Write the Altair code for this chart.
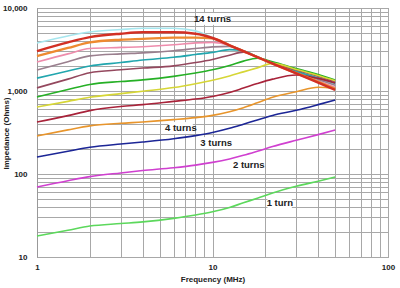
import altair as alt
import pandas as pd

freqs = [1, 1.5, 2, 3, 4, 6, 8, 10, 12.5, 15, 18, 22, 30, 40, 50]

t1 = [17.9, 21, 23.6, 25.3, 26.5, 29.2, 32, 35, 39.5, 45, 51, 59, 71, 82, 92]
t2 = [69.7, 83, 93, 103, 110, 119, 128, 138, 152, 168, 188, 214, 255, 298, 339]
t3 = [160, 188, 210, 230, 243, 266, 290, 316, 355, 398, 448, 508, 585, 685, 780]
t4 = [287, 340, 380, 408, 423, 452, 478, 508, 562, 628, 720, 840, 980, 1110, 1070]
t5 = [423, 505, 580, 650, 685, 750, 800, 860, 960, 1085, 1230, 1390, 1560, 1420, 1250]
t6 = [641, 750, 840, 930, 995, 1100, 1225, 1350, 1520, 1700, 1900, 2150, 1820, 1540, 1330]
t7 = [847, 1040, 1200, 1300, 1360, 1500, 1650, 1800, 2030, 2290, 2480, 2250, 1860, 1580, 1360]
t8 = [1090, 1390, 1660, 1800, 1890, 2010, 2200, 2400, 2700, 2940, 2560, 2180, 1790, 1510, 1300]
t9 = [1430, 1740, 2000, 2200, 2360, 2550, 2750, 2920, 3150, 3050, 2580, 2170, 1730, 1440, 1240]
t10 = [1790, 2250, 2650, 2800, 2880, 3060, 3250, 3400, 3450, 3040, 2570, 2150, 1690, 1380, 1170]
t11 = [2230, 2800, 3250, 3350, 3420, 3600, 3800, 3850, 3560, 3030, 2565, 2140, 1660, 1320, 1110]
t12 = [2640, 3300, 3850, 4150, 4250, 4400, 4400, 4300, 3550, 3020, 2565, 2140, 1640, 1290, 1060]
t13 = [3030, 3850, 4450, 4900, 5100, 5100, 4900, 4350, 3550, 3020, 2560, 2135, 1630, 1260, 1030]
t14 = [3790, 4600, 5140, 5500, 5700, 5700, 5300, 4380, 3560, 3040, 2580, 2160, 1680, 1400, 1200]

series_names = ["14", "11", "10", "9", "8", "7", "6", "5", "1", "2", "3", "4", "12", "13"]
series_values = {"1": t1, "2": t2, "3": t3, "4": t4, "5": t5, "6": t6, "7": t7,
                 "8": t8, "9": t9, "10": t10, "11": t11, "12": t12, "13": t13, "14": t14}
series_colors = {"1": "#5cd85c", "2": "#d040d0", "3": "#1c2696", "4": "#e8952c",
                 "5": "#a8233a", "6": "#d6d636", "7": "#26b026", "8": "#94485e",
                 "9": "#22a6ae", "10": "#9a7f8e", "11": "#ee8cac", "12": "#ee8a30",
                 "13": "#d23024", "14": "#a6e6ee"}

label_text = ["14 turns", "4 turns", "3 turns", "2 turns", "1 turn"]
label_f = [10.0, 6.6, 10.5, 16.1, 24.2]
label_z = [7370, 358, 236, 128, 44.8]

rows = []
for order, name in enumerate(series_names):
    for f, z in zip(freqs, series_values[name]):
        rows.append({"turns": name, "f": f, "z": z, "ord": order})
df = pd.DataFrame(rows)

lab = pd.DataFrame({"text": label_text, "f": label_f, "z": label_z})
lab["f0"] = lab["f"] * 0.85
lab["f1"] = lab["f"] * 1.17
lab["z0"] = lab["z"] * 0.85
lab["z1"] = lab["z"] * 1.18

x_vals = [1, 2, 3, 4, 5, 6, 7, 8, 9, 10, 20, 30, 40, 50, 60, 70, 80, 90, 100]
y_vals = []
for d in [10, 100, 1000]:
    y_vals += [d * k for k in range(1, 10)]
y_vals.append(10000)

xscale = alt.Scale(type="log", domain=[1, 100], nice=False)
yscale = alt.Scale(type="log", domain=[10, 10000], nice=False)

xaxis = alt.Axis(values=x_vals, grid=True, ticks=False, domain=False,
                 gridColor="#a8a8a8", gridOpacity=1, gridWidth=1,
                 labelExpr="(datum.value == 1 || datum.value == 10 || datum.value == 100) ? datum.label : ''",
                 labelFont="Liberation Sans", labelFontSize=8, labelFontWeight="bold",
                 labelColor="#222222", labelPadding=6, labelFlush=False,
                 title="Frequency  (MHz)", titleFont="Liberation Sans", titleFontSize=8,
                 titleFontWeight="bold", titleColor="#222222", titlePadding=4)
yaxis = alt.Axis(values=y_vals, grid=True, ticks=False, domain=True, domainColor="#999999",
                 gridColor="#a8a8a8", gridOpacity=1, gridWidth=1, format=",",
                 labelExpr="(datum.value == 10 || datum.value == 100 || datum.value == 1000 || datum.value == 10000) ? datum.label : ''",
                 labelFont="Liberation Sans", labelFontSize=8, labelFontWeight="bold",
                 labelColor="#222222", labelPadding=10, labelFlush=False,
                 title="Impedance  (Ohms)", titleFont="Liberation Sans", titleFontSize=8,
                 titleFontWeight="bold", titleColor="#222222", titleX=-31, titleY=125,
                 titleBaseline="middle", titleAngle=-90)

lines = alt.Chart(df).mark_line(interpolate="monotone").encode(
    x=alt.X("f:Q", scale=xscale, axis=xaxis),
    y=alt.Y("z:Q", scale=yscale, axis=yaxis),
    color=alt.Color("turns:N", scale=alt.Scale(domain=series_names,
                    range=[series_colors[n] for n in series_names]), legend=None),
    strokeWidth=alt.condition("datum.turns == '13' || datum.turns == '12'", alt.value(2.4), alt.value(1.6)),
    detail="turns:N",
    order="ord:Q",
)

boxes = alt.Chart(lab).mark_rect(color="white").encode(
    x=alt.X("f0:Q", scale=xscale), x2="f1:Q",
    y=alt.Y("z0:Q", scale=yscale), y2="z1:Q",
)

texts = alt.Chart(lab).mark_text(font="Liberation Sans", fontSize=9.5, fontWeight="bold",
                                 color="#222222").encode(
    x=alt.X("f:Q", scale=xscale), y=alt.Y("z:Q", scale=yscale), text="text:N"
)

chart = alt.layer(lines, boxes, texts).properties(
    width=351, height=249,
    autosize=alt.AutoSizeParams(type="none"),
    padding={"left": 37, "top": 8, "right": 12, "bottom": 31},
    background="white",
).configure_view(stroke="#888888", strokeWidth=1)

chart.save("out.html", embed_options={"renderer": "svg", "actions": False})
